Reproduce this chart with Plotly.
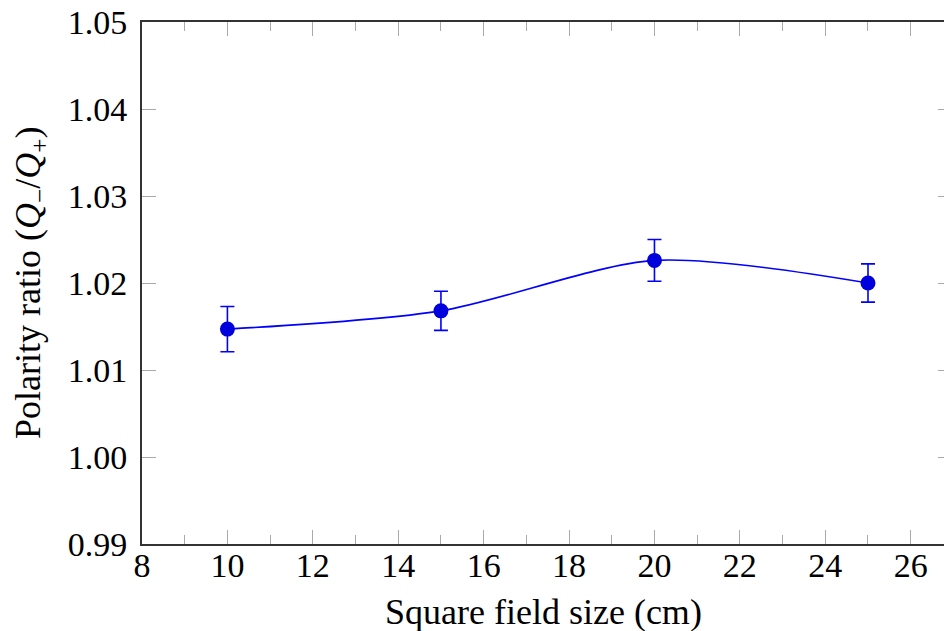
import plotly.graph_objects as go

field_size = [10, 15, 20, 25]
polarity_ratio = [1.0147, 1.0168, 1.0226, 1.0200]
ratio_error = [0.0026, 0.00225, 0.0024, 0.0022]
x_tick_vals = [8, 10, 12, 14, 16, 18, 20, 22, 24, 26]
y_tick_vals = [0.99, 1.00, 1.01, 1.02, 1.03, 1.04, 1.05]
y_tick_text = ["0.99", "1.00", "1.01", "1.02", "1.03", "1.04", "1.05"]
x_title = "Square field size (cm)"
y_title = "Polarity ratio (<i>Q</i><sub>−</sub>/<i>Q</i><sub>+</sub>)"

FONT = "Liberation Serif"
FS = 34
FT = 36
fig = go.Figure()
fig.add_trace(go.Scatter(
    x=field_size, y=polarity_ratio,
    mode="lines+markers",
    line=dict(color="#0000ff", width=1.6, shape="spline", smoothing=0.8),
    marker=dict(color="#0000dd", size=15),
    error_y=dict(type="data", array=ratio_error, color="#0000ff", thickness=1.6, width=7),
    showlegend=False,
))
# invisible trace for right-side ticks axis
fig.add_trace(go.Scatter(x=[field_size[0]], y=[polarity_ratio[0]], yaxis="y2",
                         mode="markers", marker=dict(opacity=0), showlegend=False, hoverinfo="skip"))

fig.update_layout(
    width=944, height=631,
    margin=dict(l=142, r=0, t=22, b=87),
    paper_bgcolor="white", plot_bgcolor="white",
    font=dict(family=FONT, size=FS, color="black"),
    xaxis=dict(
        range=[8, 26.78], tickvals=x_tick_vals, ticks="inside", ticklen=14, tickwidth=1.3,
        tickcolor="#aaaaaa", showline=True, linecolor="#333333", linewidth=2, mirror="ticks",
        showgrid=False, zeroline=False, automargin=False, ticklabelstandoff=-10,
        ticklabeloverflow="allow",
        minor=dict(dtick=1, ticks="inside", ticklen=9, tickwidth=1.3, tickcolor="#aaaaaa", showgrid=False),
        tickfont=dict(size=FS),
    ),
    yaxis=dict(
        range=[0.99, 1.05], tickvals=y_tick_vals, ticktext=y_tick_text, ticks="inside", ticklen=14,
        tickwidth=1.3, tickcolor="#aaaaaa", showline=True, linecolor="#333333", linewidth=2,
        showgrid=False, zeroline=False, ticklabelstandoff=6, automargin=False,
        ticklabeloverflow="allow",
        tickfont=dict(size=FS),
    ),
    yaxis2=dict(
        overlaying="y", side="right", matches="y", range=[0.99, 1.05], tickvals=y_tick_vals,
        ticks="inside", ticklen=6, tickwidth=1.3, tickcolor="#aaaaaa", showticklabels=False,
        showline=False, showgrid=False, zeroline=False, automargin=False,
    ),
    annotations=[
        dict(text=x_title, xref="paper", yref="paper", x=0.5, y=0, yshift=-68,
             xanchor="center", yanchor="middle", showarrow=False, font=dict(size=FT)),
        dict(text=y_title, xref="paper", yref="paper", x=0, y=0.5, xshift=-112,
             xanchor="center", yanchor="middle", textangle=-90, showarrow=False, font=dict(size=FT)),
    ],
)
fig.write_html("out.html", config={"displayModeBar": False},
               post_script="document.body.style.margin='0px';document.body.style.overflow='hidden';")
